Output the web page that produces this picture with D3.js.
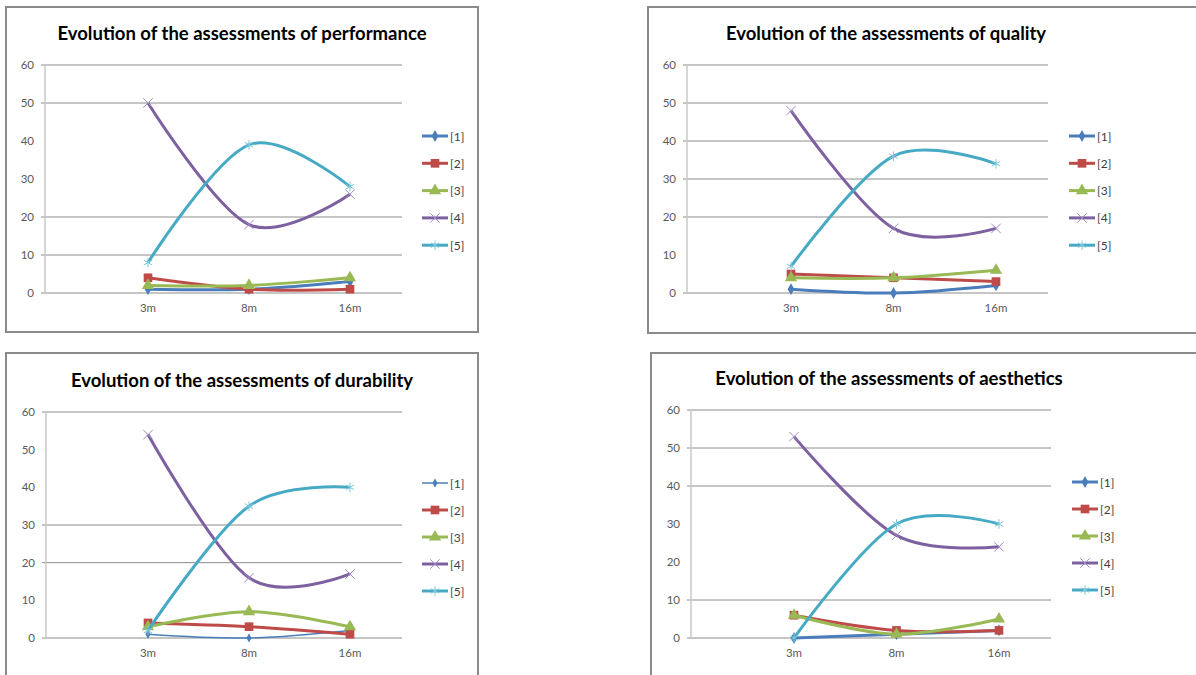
<!DOCTYPE html>
<html>
<head>
<meta charset="utf-8">
<script src="https://cdn.jsdelivr.net/npm/d3@7"></script>
<style>
    body { margin: 0; background: #fff; }
    #container { width: 1196px; height: 675px; }
    text { font-family: Lato, "Open Sans", sans-serif; }
</style>
</head>
<body>
<div id="container"></div>
<script>
'use strict';
(function() {
    // data
    var categories = ['3m', '8m', '16m'];
    var seriesNames = ['[1]', '[2]', '[3]', '[4]', '[5]'];
    var yTicks = [0, 10, 20, 30, 40, 50, 60];

    var performance = [
        [1, 1, 3],
        [4, 1, 1],
        [2, 2, 4],
        [50, 18, 26],
        [8, 39, 28]
    ];
    var quality = [
        [1, 0, 2],
        [5, 4, 3],
        [4, 4, 6],
        [48, 17, 17],
        [7, 36, 34]
    ];
    var durability = [
        [1, 0, 2],
        [4, 3, 1],
        [3, 7, 3],
        [54, 16, 17],
        [2, 35, 40]
    ];
    var aesthetics = [
        [0, 1, 2],
        [6, 2, 2],
        [6, 1, 5],
        [53, 27, 24],
        [0, 30, 30]
    ];
    // gridlines that actually show up in each panel of the source image
    var gridPerformance = [0, 10, 20, 50, 60];
    var gridQuality = [0, 20, 30, 40, 50, 60];
    var gridDurability = [0, 20, 30, 60];
    var gridAesthetics = [0, 10, 40, 50, 60];

    var colors = ['#4a7ebb', '#be4b48', '#98b954', '#7d60a0', '#46aac5'];
    var markerColors = ['#4a7ebb', '#be4b48', '#98b954', '#a08cc4', '#7fc8dc'];
    var symbols = [d3.symbolDiamond, d3.symbolSquare, d3.symbolTriangle, d3.symbolX, d3.symbolAsterisk];
    var symbolSizes = [40, 75, 65, 60, 65];

    // panel layout (page pixels)
    var panels = [
        {title: 'Evolution of the assessments of performance', values: performance, grid: gridPerformance,
            box: [6, 7, 472, 325], axisX: 45, gridRight: 402, y0: 293, y60: 65, cat: [148, 350],
            legX: 422, legY: 136, legStep: 27.3, titleX: 242, titleY: 40, thin: []},
        {title: 'Evolution of the assessments of quality', values: quality, grid: gridQuality,
            box: [648, 7, 560, 326], axisX: 687, gridRight: 1048, y0: 293, y60: 65, cat: [791, 996],
            legX: 1069, legY: 136, legStep: 27.3, titleX: 886, titleY: 40, thin: []},
        {title: 'Evolution of the assessments of durability', values: durability, grid: gridDurability,
            box: [6, 353, 472, 340], axisX: 46, gridRight: 402, y0: 638, y60: 412, cat: [148, 350],
            legX: 422, legY: 483, legStep: 27, titleX: 242, titleY: 387, thin: [0]},
        {title: 'Evolution of the assessments of aesthetics', values: aesthetics, grid: gridAesthetics,
            box: [651, 353, 560, 340], axisX: 691, gridRight: 1051, y0: 638, y60: 410, cat: [794, 999],
            legX: 1072, legY: 482, legStep: 27, titleX: 889, titleY: 385, thin: []}
    ];

    var svg = d3.select('#container').append('svg')
        .attr('width', 1196)
        .attr('height', 675);

    panels.forEach(drawPanel);

    function drawPanel(p) {
        var g = svg.append('g');

        g.append('rect')
            .attr('x', p.box[0]).attr('y', p.box[1])
            .attr('width', p.box[2]).attr('height', p.box[3])
            .attr('fill', '#fff')
            .attr('stroke', '#8a8a8a')
            .attr('stroke-width', 2);

        g.append('text')
            .attr('x', p.titleX).attr('y', p.titleY)
            .attr('text-anchor', 'middle')
            .attr('font-size', 18.5)
            .attr('font-weight', 'bold')
            .attr('fill', '#000')
            .text(p.title);

        var y = d3.scaleLinear().domain([0, 60]).range([p.y0, p.y60]);
        var x = d3.scalePoint().domain(categories).range(p.cat);

        // gridlines (only the ones visible in the source)
        g.selectAll('line.grid')
            .data(p.grid)
            .enter().append('line')
            .attr('class', 'grid')
            .attr('x1', p.axisX - 4).attr('x2', p.gridRight)
            .attr('y1', function(d) { return y(d); })
            .attr('y2', function(d) { return y(d); })
            .attr('stroke', '#8c8c8c')
            .attr('stroke-width', 1);

        // y axis line
        g.append('line')
            .attr('x1', p.axisX).attr('x2', p.axisX)
            .attr('y1', y(60)).attr('y2', y(0))
            .attr('stroke', '#c8c8c8')
            .attr('stroke-width', 1.5);

        g.selectAll('.ylab')
            .data(yTicks)
            .enter().append('text')
            .attr('class', 'ylab')
            .attr('x', p.axisX - 11)
            .attr('y', function(d) { return y(d) + 4; })
            .attr('text-anchor', 'end')
            .attr('font-size', 11.5)
            .attr('fill', '#5a5a5a')
            .text(function(d) { return d; });

        g.selectAll('.xlab')
            .data(categories)
            .enter().append('text')
            .attr('class', 'xlab')
            .attr('x', function(d) { return x(d); })
            .attr('y', p.y0 + 19)
            .attr('text-anchor', 'middle')
            .attr('font-size', 11.5)
            .attr('fill', '#5a5a5a')
            .text(function(d) { return d; });

        var line = d3.line()
            .x(function(d, i) { return x(categories[i]); })
            .y(function(d) { return y(d); })
            .curve(d3.curveCardinal.tension(0));

        p.values.forEach(function(vals, s) {
            var thin = p.thin.indexOf(s) >= 0;
            var w = thin ? 1.5 : 3;
            g.append('path')
                .datum(vals)
                .attr('d', line)
                .attr('fill', 'none')
                .attr('stroke', colors[s])
                .attr('stroke-width', w)
                .attr('stroke-linejoin', 'round');

            g.selectAll('.m' + s)
                .data(vals)
                .enter().append('path')
                .attr('class', 'm' + s)
                .attr('transform', function(d, i) {
                    return 'translate(' + x(categories[i]) + ',' + y(d) + ')';
                })
                .call(styleMarker, s, thin);

            // legend
            var ly = p.legY + s * p.legStep;
            g.append('line')
                .attr('x1', p.legX).attr('x2', p.legX + 26)
                .attr('y1', ly).attr('y2', ly)
                .attr('stroke', colors[s])
                .attr('stroke-width', w);
            g.append('path')
                .attr('transform', 'translate(' + (p.legX + 13) + ',' + ly + ')')
                .call(styleMarker, s, thin);
            g.append('text')
                .attr('x', p.legX + 28)
                .attr('y', ly + 4.5)
                .attr('font-size', 12)
                .attr('fill', '#404040')
                .text(seriesNames[s]);
        });
    }

    function styleMarker(sel, s, small) {
        var stroked = s >= 3;
        sel.attr('d', d3.symbol().type(symbols[s]).size(small ? symbolSizes[s] * 0.6 : symbolSizes[s]))
            .attr('fill', stroked ? 'none' : colors[s])
            .attr('stroke', stroked ? markerColors[s] : 'none')
            .attr('stroke-width', stroked ? 1 : 0);
    }
})();
</script>
</body>
</html>
